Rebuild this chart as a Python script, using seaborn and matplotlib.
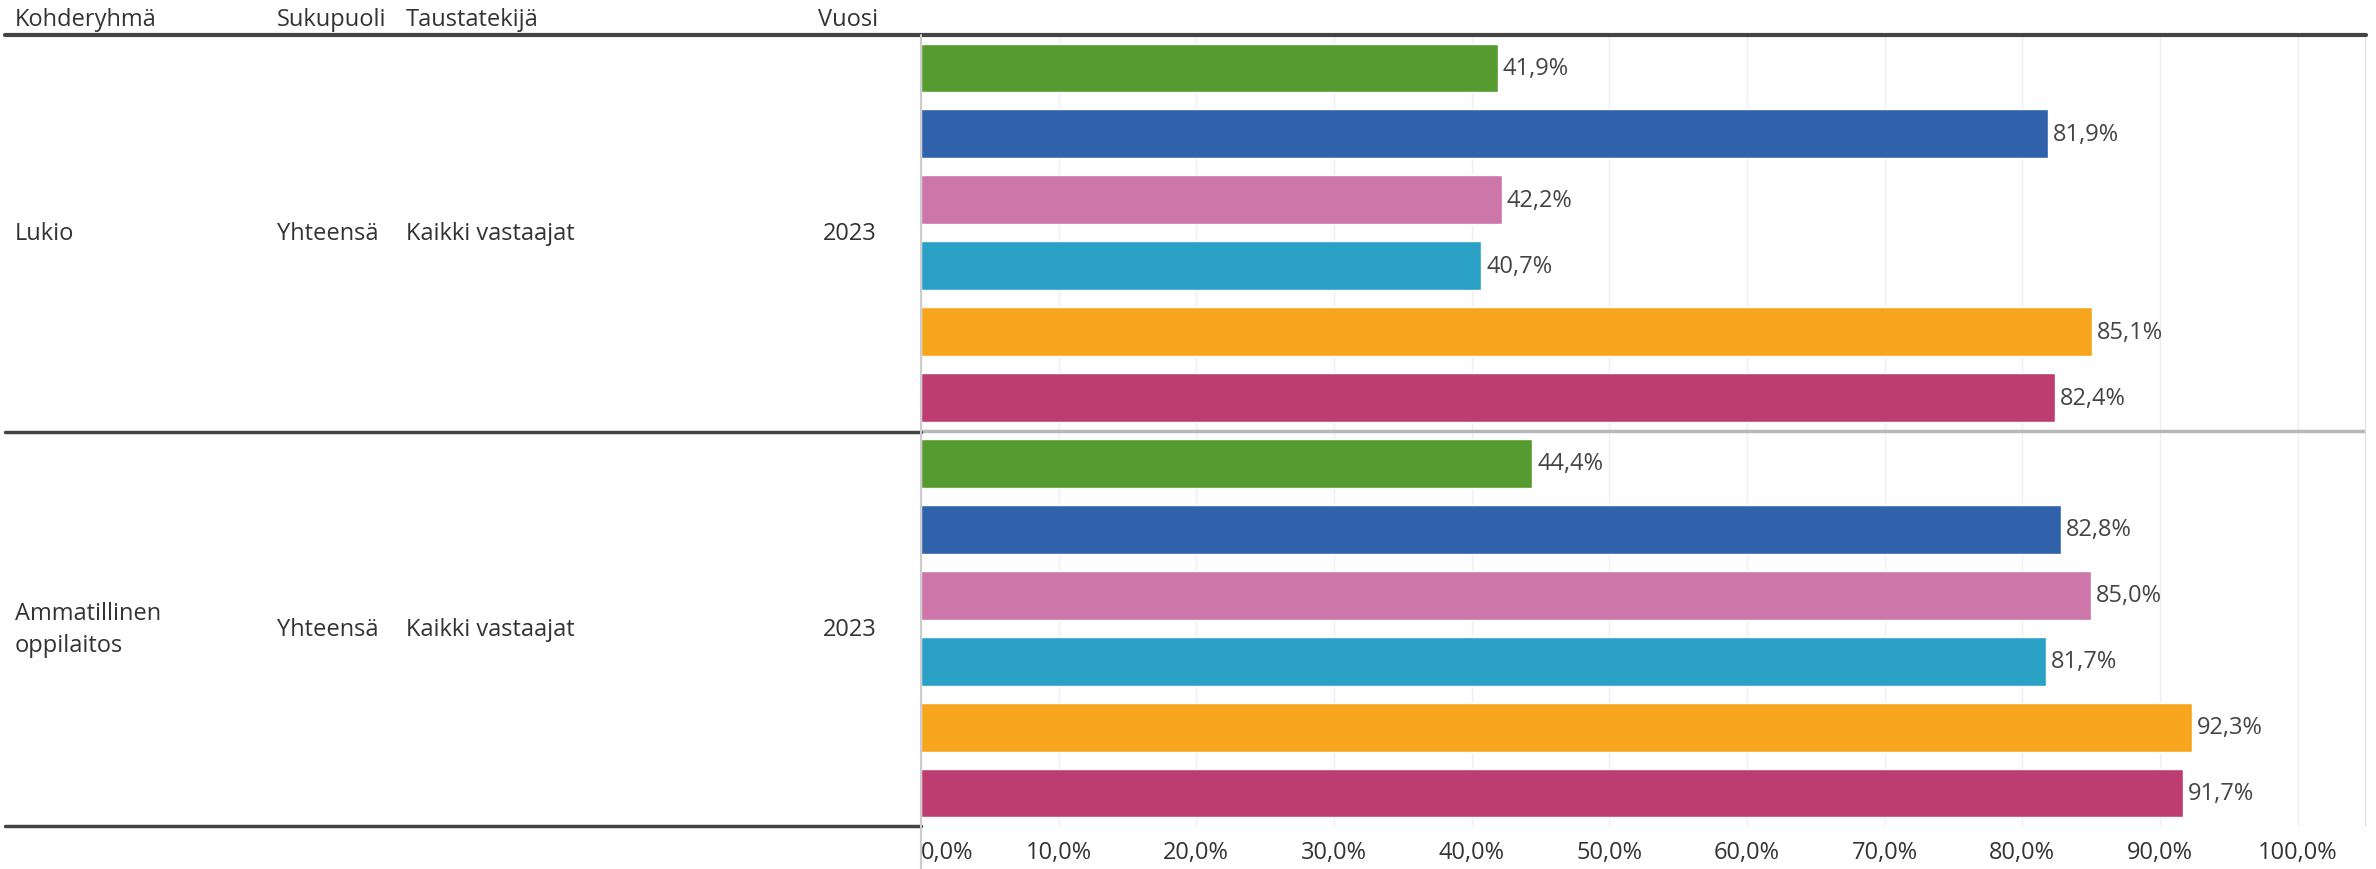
import matplotlib
matplotlib.use("Agg")
import matplotlib.pyplot as plt
import seaborn as sns
import pandas as pd
from matplotlib.lines import Line2D

# data
kohderyhmat = ["Lukio", "Ammatillinen\noppilaitos"]
sukupuoli = "Yhteensä"
taustatekija = "Kaikki vastaajat"
vuosi = "2023"
mittarit = ["Mittari 1", "Mittari 2", "Mittari 3", "Mittari 4", "Mittari 5", "Mittari 6"]
lukio_arvot = [41.9, 81.9, 42.2, 40.7, 85.1, 82.4]
ammatillinen_arvot = [44.4, 82.8, 85.0, 81.7, 92.3, 91.7]
varit = ["#559b2f", "#2f62ab", "#cc76a9", "#2aa0c4", "#f7a51d", "#bd3d70"]
x_ticks = [0, 10, 20, 30, 40, 50, 60, 70, 80, 90, 100]

rows = []
for ryhma, arvot in zip(kohderyhmat, [lukio_arvot, ammatillinen_arvot]):
    for m, a in zip(mittarit, arvot):
        rows.append({"ryhma": ryhma, "mittari": m, "arvo": a, "rivi": ryhma + "|" + m})
df = pd.DataFrame(rows)

sns.set_style("white")
plt.rcParams["font.family"] = ["Open Sans", "DejaVu Sans"]
FS = 17

W, H = 2376, 870
fig = plt.figure(figsize=(W / 100, H / 100), dpi=100)
x0, x1 = 921 / W, 2365 / W
y_top, y_bot = 1 - 36 / H, 1 - 827 / H
ax = fig.add_axes([x0, y_bot, x1 - x0, y_top - y_bot])

sns.barplot(data=df, x="arvo", y="rivi", hue="mittari", palette=varit,
            dodge=False, width=0.74, orient="h", legend=False, ax=ax,
            order=list(df["rivi"]), hue_order=mittarit, saturation=1)

ax.set_xlim(0, 104.9)
ax.set_ylim(len(df) - 0.5, -0.5)
ax.set_xlabel("")
ax.set_ylabel("")
ax.set_yticks([])
ax.set_xticks(x_ticks)
ax.set_xticklabels([f"{t:.1f}".replace(".", ",") + "%" for t in x_ticks],
                   fontsize=FS, color="#333333")
ax.get_xticklabels()[0].set_horizontalalignment("left")
ax.tick_params(axis="x", length=0, pad=10)
ax.grid(axis="x", color="#efefef", linewidth=1)
ax.set_axisbelow(True)
for s in ["top", "bottom", "left"]:
    ax.spines[s].set_visible(False)
ax.spines["right"].set_color("#e0e0e0")

# value labels
for cont in ax.containers:
    ax.bar_label(cont, labels=[f"{v:.1f}".replace(".", ",") + "%" for v in cont.datavalues],
                 padding=3.5, fontsize=FS, color="#444444")

# separator between groups inside the plot
ax.axhline(5.5, color="#b8b8b8", linewidth=2.5)

# table lines
dark = "#444444"
fig.add_artist(Line2D([5 / W, 2366 / W], [1 - 36 / H] * 2, color=dark, linewidth=3))
fig.add_artist(Line2D([5 / W, x0], [1 - 433 / H] * 2, color=dark, linewidth=2.5))
fig.add_artist(Line2D([5 / W, x0], [1 - 827 / H] * 2, color=dark, linewidth=2.5))
fig.add_artist(Line2D([x0, x0], [0, y_top], color="#cccccc", linewidth=1.5))

# header texts
hy = 1 - 20 / H
txt = dict(fontsize=FS, color="#333333", va="center")
fig.text(15 / W, hy, "Kohderyhmä", **txt)
fig.text(277 / W, hy, "Sukupuoli", **txt)
fig.text(406 / W, hy, "Taustatekijä", **txt)
fig.text(818 / W, hy, "Vuosi", **txt)

# row header texts
for ryhma, yc in zip(kohderyhmat, [234, 630]):
    yy = 1 - yc / H
    fig.text(15 / W, yy, ryhma, linespacing=1.4, **txt)
    fig.text(277 / W, yy, sukupuoli, **txt)
    fig.text(406 / W, yy, taustatekija, **txt)
    fig.text(877 / W, yy, vuosi, ha="right", **txt)

fig.savefig("out.png", dpi=100)
